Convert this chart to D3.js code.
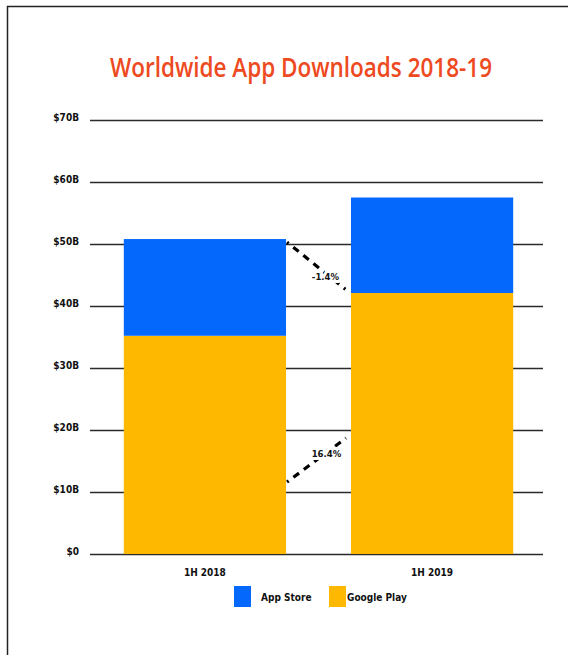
<!DOCTYPE html>
<html lang="en">
<head>
	<meta charset="UTF-8" />
	<script src="https://d3js.org/d3.v7.min.js"></script>
	<style type="text/css">
		body { margin: 0; background: #fff; }
		.tick text, .cat, .pct, .legend text {
			font-family: "DejaVu Sans Condensed", "DejaVu Sans", sans-serif;
			font-weight: bold;
			fill: #111;
		}
	</style>
	<title>Worldwide App Downloads 2018-19</title>
</head>
<body>
<script type="text/javascript">
	// Chart data
	var categories = ["1H 2018", "1H 2019"];
	var googlePlay = [35.2, 42.1];
	var appStore = [15.6, 15.4];
	var yTicks = [0, 10, 20, 30, 40, 50, 60, 70];
	var tickLabels = ["$0", "$10B", "$20B", "$30B", "$40B", "$50B", "$60B", "$70B"];
	var changeLabels = ["-1.4%", "16.4%"];
	// dashed connector ends, in $B (from, to)
	var lowerArrow = [11.6, 18.7];
	var seriesNames = ["App Store", "Google Play"];
	var seriesColors = ["#0568fd", "#ffb800"];

	var W = 568, H = 655;

	var svg = d3.select("body").append("svg")
	    .attr("width", W)
	    .attr("height", H);

	// frame
	svg.append("path")
	   .attr("d", "M7.5,655 L7.5,6.5 L568,6.5")
	   .attr("fill", "none")
	   .attr("stroke", "#222")
	   .attr("stroke-width", 1.5);

	// title
	svg.append("text")
	   .attr("x", 301)
	   .attr("y", 77)
	   .attr("text-anchor", "middle")
	   .attr("font-family", "'Open Sans', Lato, sans-serif")
	   .attr("font-weight", 600)
	   .attr("font-size", "27px")
	   .attr("fill", "#ee4a22")
	   .attr("textLength", 382)
	   .attr("lengthAdjust", "spacingAndGlyphs")
	   .text("Worldwide App Downloads 2018-19");

	// scales
	var yScale = d3.scaleLinear()
	    .domain([0, 70])
	    .range([554, 120]);

	var xScale = d3.scaleBand()
	    .domain(categories)
	    .range([92, 545])
	    .paddingInner(0.286)
	    .paddingOuter(0.14);

	// gridlines + labels
	var yAxis = svg.append("g")
	   .attr("class", "y_axis")
	   .attr("transform", "translate(90,0)")
	   .call(d3.axisLeft(yScale)
	       .tickValues(yTicks)
	       .tickSize(-453)
	       .tickPadding(11)
	       .tickFormat(function(d, i) { return tickLabels[i]; }));

	yAxis.select(".domain").remove();
	yAxis.selectAll(".tick line")
	     .attr("stroke", "#2a2a2a")
	     .attr("stroke-width", 1.6);
	yAxis.selectAll(".tick text")
	     .attr("font-size", "10px")
	     .attr("dy", "0.02em");

	// stacked bars
	var stacked = categories.map(function(c, i) {
		return {cat: c, gp: googlePlay[i], as: appStore[i]};
	});

	svg.selectAll(".bar_gp")
	   .data(stacked)
	   .enter()
	   .append("rect")
	   .attr("class", "bar_gp")
	   .attr("x", function(d) { return xScale(d.cat); })
	   .attr("width", xScale.bandwidth())
	   .attr("y", function(d) { return yScale(d.gp); })
	   .attr("height", function(d) { return yScale(0) - yScale(d.gp); })
	   .attr("fill", seriesColors[1]);

	svg.selectAll(".bar_as")
	   .data(stacked)
	   .enter()
	   .append("rect")
	   .attr("class", "bar_as")
	   .attr("x", function(d) { return xScale(d.cat); })
	   .attr("width", xScale.bandwidth())
	   .attr("y", function(d) { return yScale(d.gp + d.as); })
	   .attr("height", function(d) { return yScale(d.gp) - yScale(d.gp + d.as); })
	   .attr("fill", seriesColors[0]);

	// category labels
	svg.selectAll(".cat")
	   .data(categories)
	   .enter()
	   .append("text")
	   .attr("class", "cat")
	   .attr("x", function(d) { return xScale(d) + xScale.bandwidth() / 2; })
	   .attr("y", 576)
	   .attr("text-anchor", "middle")
	   .attr("font-size", "10px")
	   .text(function(d) { return d; });

	// dashed change connectors
	var gapX0 = xScale(categories[0]) + xScale.bandwidth() + 1;
	var gapX1 = xScale(categories[1]) - 1;
	var arrows = [
		[stacked[0].gp + stacked[0].as - 0.5, stacked[1].gp],
		lowerArrow
	];
	var labelShift = [[7, 9], [8, -6]];

	arrows.forEach(function(a, i) {
		svg.append("line")
		   .attr("x1", gapX0)
		   .attr("y1", yScale(a[0]))
		   .attr("x2", gapX1 - (i == 1 ? 4 : 0))
		   .attr("y2", yScale(a[1]))
		   .attr("stroke", "#000")
		   .attr("stroke-width", 3.2)
		   .attr("stroke-dasharray", "2,6,7,6,7,6,7,6,7,6,7,6");

		var mx = (gapX0 + gapX1) / 2 + labelShift[i][0];
		var my = (yScale(a[0]) + yScale(a[1])) / 2 + labelShift[i][1];
		svg.append("text")
		   .attr("class", "pct")
		   .attr("x", mx)
		   .attr("y", my)
		   .attr("dy", "0.35em")
		   .attr("text-anchor", "middle")
		   .attr("font-size", "9.5px")
		   .attr("stroke", "#fff")
		   .attr("stroke-width", 6)
		   .attr("paint-order", "stroke")
		   .text(changeLabels[i]);
	});

	// legend
	var legend = svg.append("g").attr("class", "legend");
	var legendX = [234, 329];
	seriesNames.forEach(function(name, i) {
		legend.append("rect")
		      .attr("x", legendX[i])
		      .attr("y", 586)
		      .attr("width", 17)
		      .attr("height", 21)
		      .attr("fill", seriesColors[i]);
		legend.append("text")
		      .attr("x", legendX[i] + (i == 0 ? 27 : 18))
		      .attr("y", 597)
		      .attr("dy", "0.35em")
		      .attr("font-size", "10px")
		      .text(name);
	});
</script>
</body>
</html>
